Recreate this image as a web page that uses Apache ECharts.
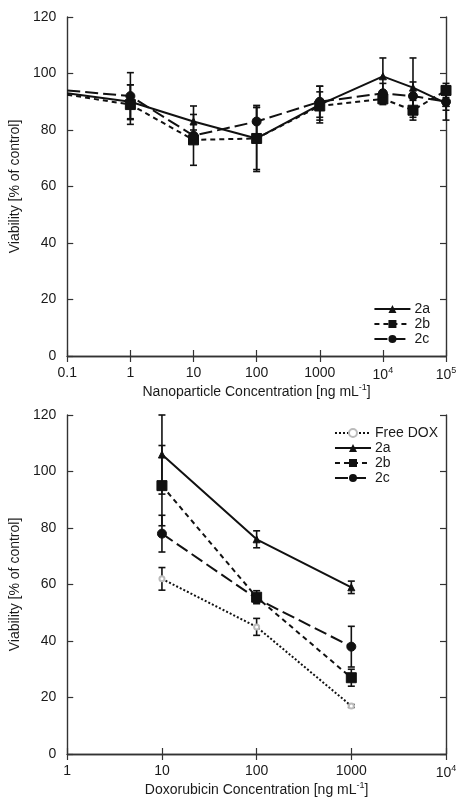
<!DOCTYPE html>
<html>
<head>
<meta charset="utf-8">
<script src="https://cdn.jsdelivr.net/npm/echarts@6/dist/echarts.min.js"></script>
<style>html,body{margin:0;padding:0;background:#fff}#c{width:465px;height:809px}</style>
</head>
<body>
<div id="c"></div>
<script>
// ---- Top chart: nanoparticle concentration ----
const npConc = [0.1, 1, 10, 100, 1000, 1e4, 3e4, 1e5];
const np2a = [93, 90, 83, 77, 89, 99, 95, 89.5];
const np2aErr = [0, 6, 5.5, 11.7, 6.5, 6.5, 10.5, 6];
const np2b = [92.5, 89, 76.5, 77, 88.5, 91, 87, 94];
const np2bErr = [0, 7, 9, 11, 5, 2, 3.5, 2.5];
const np2c = [94, 92, 78, 83, 90, 93, 92, 90];
const np2cErr = [0, 8.3, 2, 5, 5.5, 3.5, 5, 3];

// ---- Bottom chart: doxorubicin concentration ----
const doxConc = [10, 100, 1000];
const freeDox = [62, 45, 17];
const freeDoxErr = [4, 3, 0.5];
const dox2a = [106, 76, 59];
const dox2aErr = [14, 3, 2.2];
const dox2b = [95, 55.5, 27];
const dox2bErr = [14.2, 2.3, 3];
const dox2c = [78, 55, 38];
const dox2cErr = [6.5, 1.5, 7.2];

const yTicks = [0, 20, 40, 60, 80, 100, 120];

const FONT = "'Liberation Sans', Arial, sans-serif";
const TXT = '#1a1a1a';

// points sitting on the left axis (x = axis min) are drawn without a marker
function pairs(xs, ys, xmin) {
  return xs.map((x, i) => (x === xmin ? { value: [x, ys[i]], symbol: 'none' } : [x, ys[i]]));
}
function triples(xs, ys, es) { return xs.map((x, i) => [x, ys[i], es[i]]); }

function logLabel(v) {
  if (v >= 1e4) {
    const p = Math.round(Math.log10(v));
    return '{b|10}{s|' + p + '}';
  }
  if (v < 1) return '{b|' + v.toFixed(1) + '}';
  return '{b|' + Math.round(v) + '}';
}
const rich = {
  b: { fontSize: 14, fontFamily: FONT, color: TXT },
  s: { fontSize: 9, fontFamily: FONT, color: TXT, padding: [0, 0, 9, 0] }
};

function errSeries(data, xi, yi, name) {
  return {
    type: 'custom', name: name, xAxisIndex: xi, yAxisIndex: yi, z: 5,
    data: data, encode: { x: 0, y: 1 }, silent: true,
    renderItem: function (params, api) {
      const x = api.value(0), y = api.value(1), e = api.value(2);
      if (!e) return { type: 'group', children: [] };
      const top = api.coord([x, y + e]);
      const bot = api.coord([x, y - e]);
      const w = 3.5;
      const st = { stroke: '#111', lineWidth: 1.6 };
      return {
        type: 'group', children: [
          { type: 'line', shape: { x1: top[0], y1: top[1], x2: bot[0], y2: bot[1] }, style: st },
          { type: 'line', shape: { x1: top[0] - w, y1: top[1], x2: top[0] + w, y2: top[1] }, style: st },
          { type: 'line', shape: { x1: bot[0] - w, y1: bot[1], x2: bot[0] + w, y2: bot[1] }, style: st }
        ]
      };
    }
  };
}

function lineSeries(name, data, xi, yi, dash, symbol, size, color) {
  return {
    type: 'line', name: name, xAxisIndex: xi, yAxisIndex: yi, z: 6,
    data: data, symbol: symbol, symbolSize: size, showSymbol: true,
    lineStyle: { color: '#111', width: 2, type: dash },
    itemStyle: { color: color || '#111', borderColor: color || '#111' },
    clip: false, animation: false
  };
}

const grids = [
  { left: 64, right: 19, top: 17, height: 339 },
  { left: 64, right: 19, top: 415, height: 339 }
];

function xAxisPair(gi, min, max, name) {
  const common = {
    type: 'log', logBase: 10, min: min, max: max, gridIndex: gi,
    axisLine: { show: true, lineStyle: { color: '#333', width: 1.4 } },
    axisTick: { show: true, inside: true, length: 6, lineStyle: { color: '#333', width: 1.2 } },
    splitLine: { show: false }, minorTick: { show: false }
  };
  return [
    Object.assign({}, common, {
      position: 'bottom',
      axisLabel: { margin: 10, formatter: logLabel, rich: rich },
      name: name, nameLocation: 'middle', nameGap: 26,
      nameTextStyle: { fontSize: 14, fontFamily: FONT, color: TXT, rich: rich }
    }),
    Object.assign({}, common, { position: 'top', axisLabel: { show: false } })
  ];
}
function yAxisPair(gi) {
  const common = {
    type: 'value', min: yTicks[0], max: yTicks[yTicks.length - 1], interval: 20, gridIndex: gi,
    axisLine: { show: true, lineStyle: { color: '#333', width: 1.4 } },
    axisTick: { show: true, inside: true, length: 6, lineStyle: { color: '#333', width: 1.2 } },
    splitLine: { show: false }
  };
  return [
    Object.assign({}, common, {
      position: 'left',
      axisLabel: { margin: 11, fontSize: 14, fontFamily: FONT, color: TXT },
      name: 'Viability [% of control]', nameLocation: 'middle', nameGap: 32,
      nameTextStyle: { fontSize: 14, fontFamily: FONT, color: TXT }
    }),
    Object.assign({}, common, { position: 'right', axisLabel: { show: false } })
  ];
}

const xAxes = [].concat(
  xAxisPair(0, 0.1, 1e5, '{b|Nanoparticle Concentration [ng mL}{s|-1}{b|]}'),
  xAxisPair(1, 1, 1e4, '{b|Doxorubicin Concentration [ng mL}{s|-1}{b|]}')
);
const yAxes = [].concat(yAxisPair(0), yAxisPair(1));

const series = [
  errSeries(triples(npConc, np2a, np2aErr), 0, 0, 'e0a'),
  errSeries(triples(npConc, np2b, np2bErr), 0, 0, 'e0b'),
  errSeries(triples(npConc, np2c, np2cErr), 0, 0, 'e0c'),
  lineSeries('2a', pairs(npConc, np2a, 0.1), 0, 0, 'solid', 'triangle', 7),
  lineSeries('2b', pairs(npConc, np2b, 0.1), 0, 0, [5, 4], 'rect', 10),
  lineSeries('2c', pairs(npConc, np2c, 0.1), 0, 0, [13, 5], 'circle', 9),

  errSeries(triples(doxConc, freeDox, freeDoxErr), 2, 2, 'e1f'),
  errSeries(triples(doxConc, dox2a, dox2aErr), 2, 2, 'e1a'),
  errSeries(triples(doxConc, dox2b, dox2bErr), 2, 2, 'e1b'),
  errSeries(triples(doxConc, dox2c, dox2cErr), 2, 2, 'e1c'),
  lineSeries('Free DOX', pairs(doxConc, freeDox, 1), 2, 2, [2, 2], 'emptyCircle', 5, '#bbb'),
  lineSeries('2a', pairs(doxConc, dox2a, 1), 2, 2, 'solid', 'triangle', 7),
  lineSeries('2b', pairs(doxConc, dox2b, 1), 2, 2, [5, 4], 'rect', 10),
  lineSeries('2c', pairs(doxConc, dox2c, 1), 2, 2, [13, 5], 'circle', 9)
];
// Free DOX: dotted black line, light gray marker
series[10].lineStyle.color = '#111';

const chart = echarts.init(document.getElementById('c'), null, { renderer: 'canvas' });
chart.setOption({
  animation: false,
  backgroundColor: '#fff',
  textStyle: { fontFamily: FONT },
  grid: grids,
  xAxis: xAxes,
  yAxis: yAxes,
  legend: [
    {
      data: ['2a', '2b', '2c'], orient: 'vertical', right: 35, top: 302,
      itemWidth: 36, itemHeight: 10, itemGap: 1, padding: 0,
      textStyle: { fontSize: 14, fontFamily: FONT, color: TXT, padding: [0, 0, 0, -1] }
    },
    {
      data: ['Free DOX', '2a', '2b', '2c'], orient: 'vertical', right: 27, top: 426,
      itemWidth: 36, itemHeight: 10, itemGap: 1, padding: 0,
      textStyle: { fontSize: 14, fontFamily: FONT, color: TXT, padding: [0, 0, 0, -1] }
    }
  ],
  series: series
});
</script>
</body>
</html>
